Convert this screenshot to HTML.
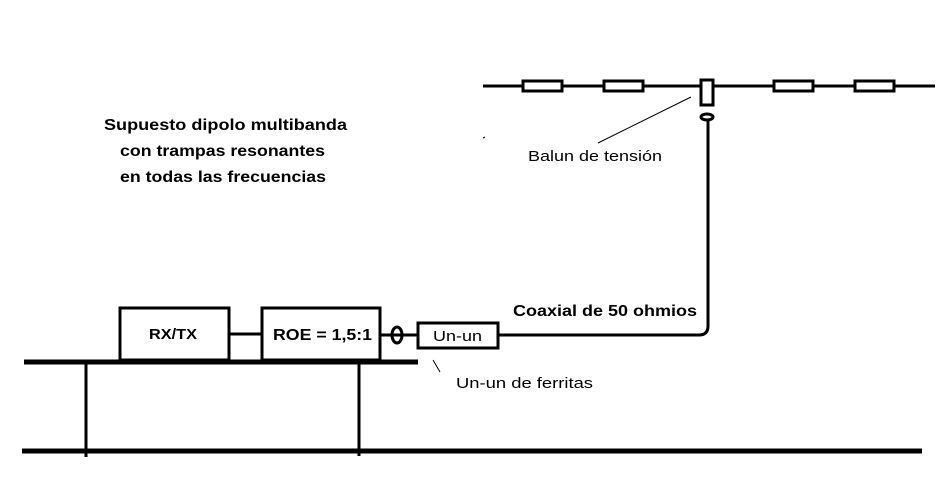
<!DOCTYPE html>
<html><head><meta charset="utf-8"><style>
html,body{margin:0;padding:0;background:#fff;}
svg{display:block;}
text{font-family:"Liberation Sans",sans-serif;fill:#000;}
</style></head><body>
<svg width="952" height="481" viewBox="0 0 952 481" xmlns="http://www.w3.org/2000/svg">
<g stroke="#000" fill="none">
<!-- antenna -->
<line x1="483" y1="86" x2="935" y2="86" stroke-width="3"/>
<g fill="#fff" stroke-width="3">
<rect x="523" y="81" width="39" height="10"/>
<rect x="604" y="81" width="39" height="10"/>
<rect x="774" y="81" width="39" height="10"/>
<rect x="855" y="81" width="39" height="10"/>
<rect x="701" y="80" width="12" height="25"/>
</g>
<ellipse cx="707" cy="117" rx="6" ry="3" stroke-width="3"/>
<line x1="598" y1="143" x2="691" y2="97" stroke-width="1"/>
<line x1="483" y1="138" x2="485" y2="137" stroke-width="1"/>
<!-- coax -->
<path d="M708 120 V326 Q708 335 699 335 H498" stroke-width="3"/>
<rect x="418" y="323" width="80" height="25" stroke-width="3"/>
<ellipse cx="397" cy="335" rx="5" ry="8" stroke-width="3"/>
<line x1="380" y1="335" x2="418" y2="335" stroke-width="3"/>
<line x1="433" y1="360" x2="440" y2="372" stroke-width="1"/>
<!-- equipment -->
<rect x="120" y="308" width="109" height="52" stroke-width="3"/>
<rect x="262" y="308" width="118" height="52" stroke-width="3"/>
<line x1="229" y1="334" x2="262" y2="334" stroke-width="3"/>
<line x1="24" y1="362" x2="418" y2="362" stroke-width="5"/>
<line x1="86" y1="362" x2="86" y2="457" stroke-width="3"/>
<line x1="359" y1="362" x2="359" y2="456" stroke-width="3"/>
<line x1="22" y1="451" x2="922" y2="451" stroke-width="5"/>
</g>
<g font-weight="bold" font-size="16">
<text x="104" y="130" textLength="243" lengthAdjust="spacingAndGlyphs">Supuesto dipolo multibanda</text>
<text x="120" y="156" textLength="205" lengthAdjust="spacingAndGlyphs">con trampas resonantes</text>
<text x="120" y="182" textLength="206" lengthAdjust="spacingAndGlyphs">en todas las frecuencias</text>
<text x="513" y="316" textLength="184" lengthAdjust="spacingAndGlyphs">Coaxial de 50 ohmios</text>
<text x="149" y="339" font-size="15" textLength="48" lengthAdjust="spacingAndGlyphs">RX/TX</text>
<text x="273" y="340" textLength="99" lengthAdjust="spacingAndGlyphs">ROE = 1,5:1</text>
</g>
<text x="433" y="341" font-size="15" textLength="49" lengthAdjust="spacingAndGlyphs">Un-un</text>
<text x="528" y="161" font-size="15" textLength="134" lengthAdjust="spacingAndGlyphs">Balun de tensión</text>
<text x="456" y="388" font-size="15" textLength="137" lengthAdjust="spacingAndGlyphs">Un-un de ferritas</text>
</svg>
</body></html>
